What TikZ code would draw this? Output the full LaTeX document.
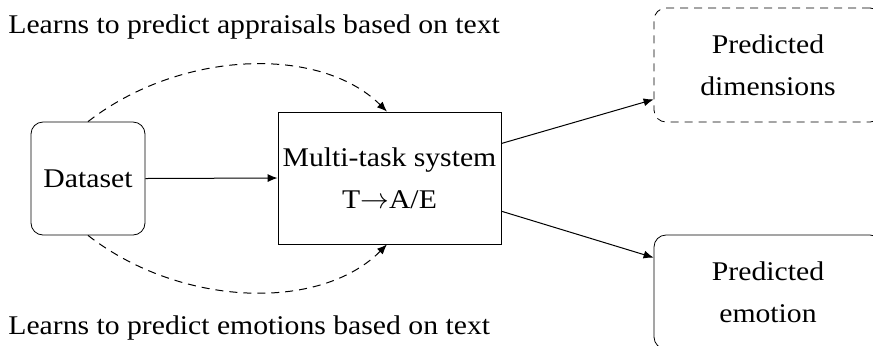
\documentclass[tikz,border=0pt]{standalone}
\usepackage{fontspec}
\setmainfont[FakeStretch=1.1]{Liberation Serif}
\usetikzlibrary{arrows.meta,calc}
\begin{document}
\begin{tikzpicture}[x=0.5pt,y=-0.5pt,
  every node/.style={font=\fontsize{13.5}{21}\selectfont},
  box/.style={draw, rectangle, inner sep=0pt, align=center},
  rbox/.style={box, rounded corners=6pt},
  link/.style={-{Latex[length=5pt,width=4pt]}, line width=0.5pt},
  hint/.style={link, dashed, dash pattern=on 4pt off 3pt}]
  \useasboundingbox (0,0) rectangle (873,345);
  \begin{scope}
  \clip (0,0) rectangle (873,345);
  % input and model
  \node[rbox, minimum width=57pt, minimum height=56.5pt] (data) at (88,178.5) {Dataset};
  \node[box, minimum width=111.5pt, minimum height=66pt] (mts) at (389.5,178) {Multi-task system\\T$\rightarrow$A/E};
  % outputs
  \node[rbox, dashed, dash pattern=on 4pt off 3pt, minimum width=114pt, minimum height=57pt] (dim) at (768,65) {Predicted\\dimensions};
  \node[rbox, minimum width=114pt, minimum height=57pt] (emo) at (768,292) {Predicted\\emotion};
  \end{scope}
  % captions for the two training signals
  \node[anchor=base west, inner sep=0pt] (tapp) at (8,33) {Learns to predict appraisals based on text};
  \node[anchor=base west, inner sep=0pt] (temo) at (8,334) {Learns to predict emotions based on text};
  % connectors
  \draw[link] (data.east) -- (mts.west);
  \draw[link] ($(mts.north east)!0.24!(mts.south east)$) -- ($(dim.north west)!0.8!(dim.south west)$);
  \draw[link] ($(mts.north east)!0.75!(mts.south east)$) -- ($(emo.north west)!0.2!(emo.south west)$);
  \draw[hint] (data.north) .. controls (180,50) and (320,45) .. ($(mts.north)+(-2.5,0)$);
  \draw[hint] (data.south) .. controls (180,307) and (320,312) .. ($(mts.south)+(-2.5,0)$);
\end{tikzpicture}
\end{document}
